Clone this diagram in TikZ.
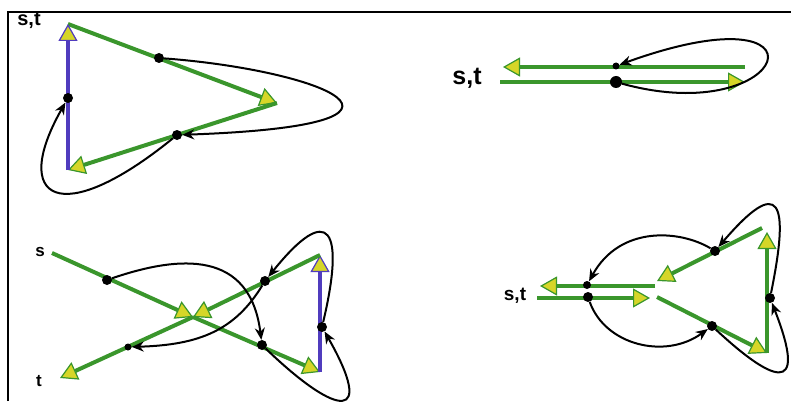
\documentclass[tikz,border=0pt]{standalone}
\usepackage{fontspec}
\setmainfont{Liberation Sans}
\usetikzlibrary{arrows.meta}

\definecolor{roadgreen}{RGB}{58,150,44}
\definecolor{headyellow}{RGB}{214,214,40}
\definecolor{roadblue}{RGB}{80,60,190}

\begin{document}
\begin{tikzpicture}[x=1pt, y=-1pt,
    road/.style={draw=roadgreen, line width=4pt, -{Triangle[fill=headyellow, line width=1.2pt, length=17pt, width=19pt]}},
    vroad/.style={road, draw=roadblue},
    walk/.style={draw=black, line width=2pt, -{Stealth[length=12pt, width=10pt]}},
    dot/.style={circle, fill=black, inner sep=0pt, minimum size=10pt},
    smalldot/.style={dot, minimum size=7pt},
    lbl/.style={font=\bfseries, inner sep=0pt}]

    \useasboundingbox (0,0) rectangle (791,401);
    \draw[line width=2pt] (8,401) -- (8,12) -- (791,12);

    % top left
    \node [lbl, font=\bfseries\fontsize{20}{20}\selectfont] (st1) at (29,21) {s,t};
    \coordinate (a1) at (68,24);
    \coordinate (b1) at (277,103);
    \coordinate (c1) at (68,170);
    \draw [road] (a1) -- (b1);
    \draw [road] (b1) -- (c1);
    \draw [vroad] (c1) -- (a1);
    \node [dot] (d1) at (159,58) {};
    \node [dot] (d2) at (177,135) {};
    \node [dot] (d3) at (68,98) {};
    \draw [walk] (d1) .. controls (320,70) and (460,125) .. (d2);
    \draw [walk] (d2) .. controls (60,230) and (10,200) .. (d3);

    % top right
    \node [lbl, font=\bfseries\fontsize{25}{25}\selectfont] (st2) at (467,78) {s,t};
    \coordinate (e2) at (745,67);
    \coordinate (f2) at (503,67);
    \coordinate (g2) at (500,82);
    \coordinate (h2) at (745,82);
    \draw [road] (e2) -- (f2);
    \draw [road] (g2) -- (h2);
    \node [smalldot] (u2) at (616,66) {};
    \node [dot, minimum size=12pt] (l2) at (616,82) {};
    \draw [walk] (l2) .. controls (790,130) and (840,-15) .. (u2);

    % bottom left
    \node [lbl, font=\bfseries\fontsize{17}{17}\selectfont] (s3) at (40,252) {s};
    \node [lbl, font=\bfseries\fontsize{17}{17}\selectfont] (t3) at (39,381) {t};
    \coordinate (s3a) at (52,253);
    \coordinate (x3) at (193,317);
    \coordinate (r3) at (320,372);
    \coordinate (q3) at (320,255);
    \coordinate (t3a) at (60,378);
    \draw [road] (s3a) -- (x3);
    \draw [road] (x3) -- (r3);
    \draw [vroad] (r3) -- (q3);
    \draw [road] (q3) -- (x3);
    \draw [road] (x3) -- (t3a);
    \node [dot] (a3) at (107,280) {};
    \node [dot] (b3) at (262,345) {};
    \node [dot] (c3) at (265,281) {};
    \node [dot] (f3) at (322,327) {};
    \node [smalldot] (e3) at (128,347) {};
    \draw [walk] (a3) .. controls (180,255) and (250,250) .. (b3);
    \draw [walk] (b3) .. controls (340,420) and (375,420) .. (f3);
    \draw [walk] (f3) .. controls (345,230) and (330,200) .. (c3);
    \draw [walk] (c3) .. controls (235,330) and (200,345) .. (e3);

    % bottom right
    \node [lbl, font=\bfseries\fontsize{19}{19}\selectfont] (st4) at (515,296) {s,t};
    \coordinate (m4) at (655,286);
    \coordinate (n4) at (540,286);
    \coordinate (o4) at (537,298);
    \coordinate (p4) at (650,298);
    \coordinate (v4) at (657,297);
    \coordinate (q4) at (767,353);
    \coordinate (w4) at (767,232);
    \coordinate (z4) at (762,228);
    \coordinate (y4) at (657,281);
    \draw [road] (m4) -- (n4);
    \draw [road] (o4) -- (p4);
    \draw [road] (v4) -- (q4);
    \draw [road] (q4) -- (w4);
    \draw [road] (z4) -- (y4);
    \node [smalldot, minimum size=8pt] (u4) at (587,285) {};
    \node [dot] (l4) at (588,297) {};
    \node [dot] (g4) at (715,251) {};
    \node [dot] (h4) at (712,326) {};
    \node [dot] (k4) at (770,298) {};
    \draw [walk] (g4) .. controls (680,230) and (620,225) .. (u4);
    \draw [walk] (l4) .. controls (605,345) and (665,360) .. (h4);
    \draw [walk] (h4) .. controls (770,380) and (810,400) .. (k4);
    \draw [walk] (k4) .. controls (790,200) and (780,175) .. (g4);
\end{tikzpicture}
\end{document}
